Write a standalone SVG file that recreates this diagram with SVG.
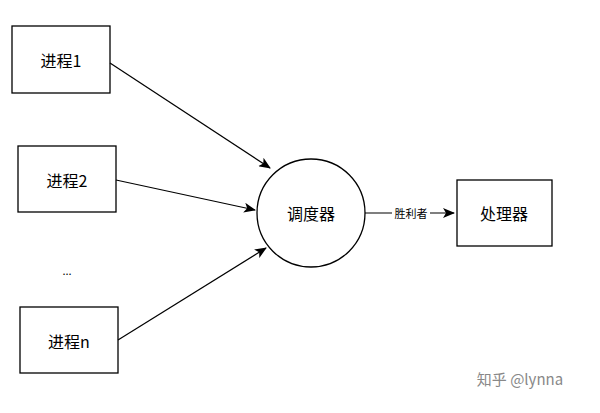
<svg xmlns="http://www.w3.org/2000/svg" width="600" height="413" viewBox="0 0 600 413">
<style>
.box{fill:#fff;stroke:#000;stroke-width:1.3}
.t{font-family:"Noto Sans CJK SC","Noto Sans",sans-serif;font-size:16px;fill:#000;text-anchor:middle;dominant-baseline:central}
.c line{stroke:#000;stroke-width:1.2;marker-end:url(#a)}
</style>
<defs><marker id="a" markerWidth="12" markerHeight="10" refX="11" refY="5" orient="auto" markerUnits="userSpaceOnUse"><path d="M0,0 L12,5 L0,10 L3,5 z" fill="#000"/></marker></defs>
<rect width="600" height="413" fill="#fff"/>
<g id="p1"><rect class="box" x="12" y="26" width="98" height="67"/><text class="t" x="61" y="60">进程1</text></g>
<g id="p2"><rect class="box" x="18" y="146" width="98" height="66"/><text class="t" x="67" y="180">进程2</text></g>
<g id="dots"><text class="t" x="67" y="270" style="font-size:11px">...</text></g>
<g id="pn"><rect class="box" x="20" y="307" width="98" height="66"/><text class="t" x="69" y="341">进程n</text></g>
<g id="sched"><circle class="box" cx="311" cy="213" r="54"/><text class="t" x="311" y="213">调度器</text></g>
<g id="cpu"><rect class="box" x="457" y="180" width="95" height="66"/><text class="t" x="504" y="213">处理器</text></g>
<g class="c">
<line x1="365" y1="213" x2="454" y2="213"/>
<line x1="110" y1="63" x2="270" y2="168"/>
<line x1="116" y1="180" x2="255" y2="210"/>
<line x1="118" y1="340" x2="266" y2="248"/>
<rect x="392" y="206" width="38" height="14" fill="#fff"/>
<text class="t" x="411" y="213" style="font-size:11px">胜利者</text>
</g>
<text x="520" y="385" font-family="'Noto Sans CJK SC',sans-serif" font-size="15" fill="#888" text-anchor="middle">知乎 @lynna</text>
</svg>
